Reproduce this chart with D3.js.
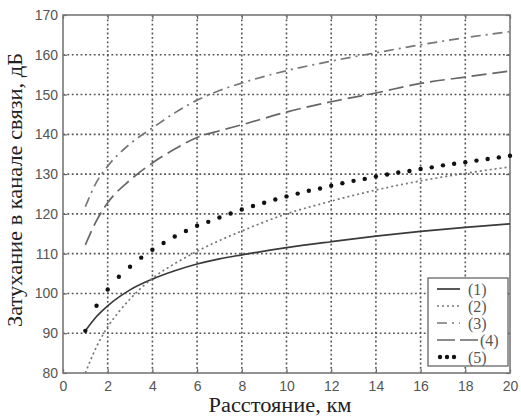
<!DOCTYPE html>
<html><head><meta charset="utf-8">
<script src="https://cdn.jsdelivr.net/npm/d3@7"></script>
<style>body{margin:0;background:#fff}</style>
</head><body>
<script>
// ---- data ----
const xTicks = [0,2,4,6,8,10,12,14,16,18,20];
const yTicks = [80,90,100,110,120,130,140,150,160,170];
const seriesNames = ["(1)","(2)","(3)","(4)","(5)"];

const dist1 = [1,1.5,2,3,4,5,6,7,8,10,12,14,16,18,20];
const att1  = [90.6,94.2,96.9,100.9,103.6,105.7,107.4,108.7,109.7,111.5,113.0,114.4,115.6,116.6,117.5];

const dist2 = [1,1.5,2,2.5,3,4,5,6,7,8,10,12,14,16,18,20];
const att2  = [80,86.6,91.6,95.4,98.6,103.8,107.5,110.6,113.3,115.7,120.0,123.2,126.0,128.3,130.2,131.8];

const dist3 = [1,1.5,2,3,4,5,6,7,8,10,12,14,16,18,20];
const att3  = [121.8,128.0,132.0,137.6,141.6,145.4,148.6,151.0,152.9,156.0,158.4,160.5,162.5,164.3,165.8];

const dist4 = [1,1.5,2,3,4,5,6,7,8,10,12,14,16,18,20];
const att4  = [112.2,118.3,122.8,128.5,132.8,136.3,139.2,140.9,142.4,145.6,148.2,150.4,152.8,154.4,155.9];

const dist5 = [1,1.5,2,2.5,3,3.5,4,4.5,5,5.5,6,6.5,7,7.5,8,8.5,9,9.5,10,10.5,11,11.5,12,12.5,13,13.5,14,14.5,15,15.5,16,16.5,17,17.5,18,18.5,19,19.5,20];
const att5  = [90.6,96.9,101.0,104.2,106.7,109.0,111.0,112.7,114.3,115.7,117.0,118.0,119.1,120.1,121.1,122.0,122.8,123.6,124.4,125.1,125.8,126.4,127.1,127.7,128.3,128.8,129.4,129.9,130.4,130.8,131.3,131.7,132.2,132.6,133.0,133.4,133.8,134.2,134.6];

const xLabel = "Расстояние, км";
const yLabel = "Затухание в канале связи, дБ";

// ---- drawing ----
const W = 521, H = 416;
const L = 63, R = 510, T = 15, B = 373;
const svg = d3.select("body").append("svg").attr("width", W).attr("height", H);

const x = d3.scaleLinear().domain([0,20]).range([L,R]);
const y = d3.scaleLinear().domain([80,170]).range([B,T]);

// grid
const g = svg.append("g");
g.selectAll("line.gx").data(xTicks.slice(1,-1)).join("line")
  .attr("x1", d=>x(d)).attr("x2", d=>x(d)).attr("y1", T).attr("y2", B)
  .attr("stroke", "#555").attr("stroke-width", 1.6).attr("stroke-dasharray", "1.8,2.6");
g.selectAll("line.gy").data(yTicks.slice(1,-1)).join("line")
  .attr("y1", d=>y(d)).attr("y2", d=>y(d)).attr("x1", L).attr("x2", R)
  .attr("stroke", "#555").attr("stroke-width", 1.6).attr("stroke-dasharray", "1.8,2.6");

// axes (MATLAB-like, inward ticks on all sides)
const tickStyle = sel => {
  sel.select(".domain").remove();
  sel.selectAll(".tick line").attr("stroke", "#666").attr("stroke-width", 1.2);
  sel.selectAll(".tick text").attr("fill", "#555")
    .style("font-family", "'Liberation Sans Narrow', 'Arial Narrow', 'Liberation Sans', sans-serif").style("font-size", "14px");
};
svg.append("g").attr("transform", `translate(0,${B})`)
  .call(d3.axisBottom(x).tickValues(xTicks).tickSize(-4).tickPadding(8).tickFormat(d3.format("d")))
  .call(tickStyle);
svg.append("g").attr("transform", `translate(0,${T})`)
  .call(d3.axisTop(x).tickValues(xTicks).tickSize(-4).tickFormat(""))
  .call(tickStyle);
svg.append("g").attr("transform", `translate(${L},0)`)
  .call(d3.axisLeft(y).tickValues(yTicks).tickSize(-4).tickPadding(5).tickFormat(d3.format("d")))
  .call(tickStyle);
svg.append("g").attr("transform", `translate(${R},0)`)
  .call(d3.axisRight(y).tickValues(yTicks).tickSize(-4).tickFormat(""))
  .call(tickStyle);

svg.append("rect").attr("x", L).attr("y", T).attr("width", R-L).attr("height", B-T)
  .attr("fill", "none").attr("stroke", "#777").attr("stroke-width", 1.6);

// lines
const line = d3.line().x(d=>x(d[0])).y(d=>y(d[1])).curve(d3.curveMonotoneX);
const styles = [
  {stroke:"#3a3a3a", dash:null},
  {stroke:"#777", dash:"2,3"},
  {stroke:"#777", dash:"10,5,2,5"},
  {stroke:"#666", dash:"15,6"}
];
const sets = [[dist1,att1],[dist2,att2],[dist3,att3],[dist4,att4]];
sets.forEach((s,i) => {
  svg.append("path").datum(d3.zip(s[0], s[1])).attr("d", line)
    .attr("fill","none").attr("stroke", styles[i].stroke).attr("stroke-width", 1.7)
    .attr("stroke-dasharray", styles[i].dash);
});
svg.append("g").selectAll("circle").data(d3.zip(dist5, att5)).join("circle")
  .attr("cx", d=>x(d[0])).attr("cy", d=>y(d[1])).attr("r", 2.2).attr("fill", "#111");

// legend
const lg = svg.append("g");
lg.append("rect").attr("x", 428).attr("y", 278).attr("width", 80).attr("height", 88)
  .attr("fill", "#fff").attr("stroke", "#666").attr("stroke-width", 1.3);
const rowsY = [289, 306, 323, 340, 357];
[0,1,2].forEach(i => {
  lg.append("line").attr("x1", 437).attr("x2", 460).attr("y1", rowsY[i]).attr("y2", rowsY[i])
    .attr("stroke", styles[i].stroke).attr("stroke-width", 1.7).attr("stroke-dasharray", styles[i].dash);
});
lg.append("line").attr("x1", 437).attr("x2", 479).attr("y1", rowsY[3]).attr("y2", rowsY[3])
  .attr("stroke", styles[3].stroke).attr("stroke-width", 1.7).attr("stroke-dasharray", "18,5");
[440, 447, 454].forEach(cx => lg.append("circle").attr("cx", cx).attr("cy", rowsY[4]).attr("r", 2.2).attr("fill", "#111"));
const lx = [468,468,468,480,468];
seriesNames.forEach((n,i) => {
  lg.append("text").attr("x", lx[i]).attr("y", rowsY[i]).attr("dy", "0.35em")
    .attr("fill", "#555").style("font-family", "'Liberation Serif', 'Times New Roman', serif")
    .style("font-size", "16px").text(n);
});

// axis titles
svg.append("text").attr("x", 280).attr("y", 412).attr("text-anchor", "middle")
  .attr("textLength", 143).attr("lengthAdjust", "spacingAndGlyphs")
  .attr("fill", "#222").style("font-family", "'Liberation Serif', 'Times New Roman', serif")
  .style("font-size", "20px").text(xLabel);
svg.append("text").attr("transform", "translate(22,190) rotate(-90)").attr("text-anchor", "middle")
  .attr("textLength", 274).attr("lengthAdjust", "spacingAndGlyphs")
  .attr("fill", "#222").style("font-family", "'Liberation Serif', 'Times New Roman', serif")
  .style("font-size", "20px").text(yLabel);
</script>
</body></html>
